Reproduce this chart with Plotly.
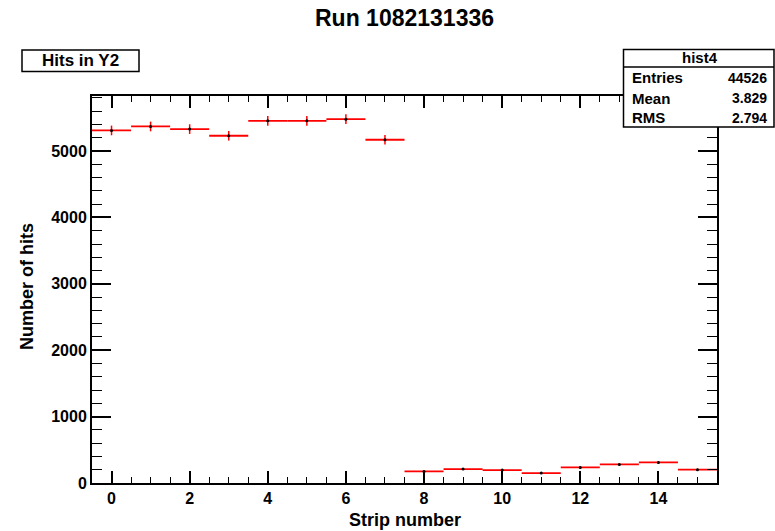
import numpy as np
import plotly.graph_objects as go

# ---- data ----
strips = list(range(16))
hits = [5311, 5371, 5331, 5231, 5456, 5456, 5481, 5171,
        175, 210, 195, 150, 235, 280, 310, 200]
errors = [float(np.sqrt(h)) for h in hits]
title_text = "Run 1082131336"
hist_label = "Hits in Y2"
stats_name = "hist4"
stats_rows = [("Entries", "44526"), ("Mean", "3.829"), ("RMS", "2.794")]

W, H = 775, 531
L, R, T, B = 92, 717, 96, 483  # plot frame in pixels


def px(x):
    return (x - L) / (R - L)


def py(y):
    return (B - y) / (B - T)


FONT = "Liberation Sans"

fig = go.Figure()
fig.add_trace(go.Scatter(
    x=strips, y=hits, mode="markers",
    marker=dict(color="black", size=3, symbol="circle"),
    error_x=dict(type="constant", value=0.5, color="#ff0000", thickness=1.8, width=0),
    error_y=dict(type="data", array=errors, color="#ff0000", thickness=1.5, width=0),
    showlegend=False, hoverinfo="x+y",
))

axis_common = dict(
    showline=True, linecolor="black", linewidth=2, mirror="allticks",
    ticks="inside", tickcolor="black", tickwidth=1.5,
    showgrid=False, zeroline=False,
    tickfont=dict(family=FONT, size=16, color="black", weight="bold"),
)
fig.update_xaxes(range=[-0.5, 15.5], dtick=2, tick0=0, ticklen=12,
                 minor=dict(dtick=0.5, ticklen=6, tickcolor="black", tickwidth=1.2, ticks="inside"),
                 **axis_common)
fig.update_yaxes(range=[0, 5830], dtick=1000, tick0=0, ticklen=19,
                 minor=dict(dtick=200, ticklen=10, tickcolor="black", tickwidth=1.2, ticks="inside"),
                 **axis_common)

annotations = [
    dict(text=title_text, x=px(404), y=py(18), xref="paper", yref="paper",
         showarrow=False, xanchor="center", yanchor="middle",
         font=dict(family=FONT, size=23, color="black", weight="bold")),
    dict(text=hist_label, x=px(80.5), y=py(61), xref="paper", yref="paper",
         showarrow=False, xanchor="center", yanchor="middle",
         font=dict(family=FONT, size=17, color="black", weight="bold")),
    dict(text="Strip number", x=px(405), y=py(520), xref="paper", yref="paper",
         showarrow=False, xanchor="center", yanchor="middle",
         font=dict(family=FONT, size=18, color="black", weight="bold")),
    dict(text="Number of hits", x=px(27), y=py(287), xref="paper", yref="paper",
         showarrow=False, xanchor="center", yanchor="middle", textangle=-90,
         font=dict(family=FONT, size=18, color="black", weight="bold")),
    dict(text=stats_name, x=px(700), y=py(58), xref="paper", yref="paper",
         showarrow=False, xanchor="center", yanchor="middle",
         font=dict(family=FONT, size=15, color="black", weight="bold")),
]
row_y = [78, 98, 118]
for (lab, val), yy in zip(stats_rows, row_y):
    annotations.append(dict(text=lab, x=px(630), y=py(yy), xref="paper", yref="paper",
                            showarrow=False, xanchor="left", yanchor="middle",
                            font=dict(family=FONT, size=15, color="black", weight="bold")))
    annotations.append(dict(text=val, x=px(769), y=py(yy), xref="paper", yref="paper",
                            showarrow=False, xanchor="right", yanchor="middle",
                            font=dict(family=FONT, size=14, color="black", weight="bold")))

shapes = [
    dict(type="rect", xref="paper", yref="paper", x0=px(22), x1=px(139), y0=py(50), y1=py(71.5),
         line=dict(color="black", width=1.5), fillcolor="white", layer="above"),
    dict(type="rect", xref="paper", yref="paper", x0=px(623.5), x1=px(774), y0=py(49.5), y1=py(127),
         line=dict(color="black", width=1.5), fillcolor="white", layer="above"),
    dict(type="line", xref="paper", yref="paper", x0=px(623.5), x1=px(774), y0=py(67), y1=py(67),
         line=dict(color="black", width=1.5), layer="above"),
]

fig.update_layout(
    width=W, height=H,
    margin=dict(l=L, r=W - R, t=T, b=H - B, pad=0),
    paper_bgcolor="white", plot_bgcolor="white",
    annotations=annotations, shapes=shapes,
    showlegend=False,
)

fig.write_html("out.html", config={"displayModeBar": False},
               post_script="document.body.style.margin='0';document.body.style.overflow='hidden';")
